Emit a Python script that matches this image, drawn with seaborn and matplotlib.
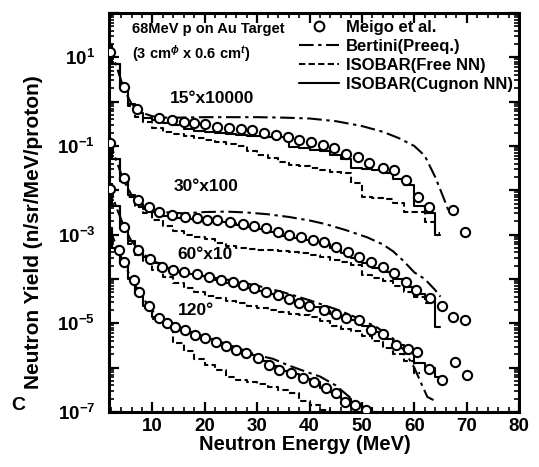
import numpy as np
import matplotlib
matplotlib.use("Agg")
import matplotlib.pyplot as plt
from matplotlib.lines import Line2D
from matplotlib.ticker import LogLocator, MultipleLocator, FuncFormatter, NullFormatter
import seaborn as sns

# ---------------- data (log10 of yield) ----------------
STEP_E = [1.7, 3, 4.5, 6, 7.5, 9, 11, 13, 15, 17, 19, 21, 23, 25, 27, 29, 31, 33,
          35, 37, 39, 41, 43, 45, 47, 49, 51, 53, 55, 57, 59, 61, 63, 65]

# 15 deg x 10000
meigo15_E = [1.95, 4.5, 7.1, 11.2, 13.8, 16.0, 17.9, 20.0, 22.4, 24.6, 26.9, 29.1, 31.3, 33.6,
             35.8, 38.0, 40.3, 42.5, 44.7, 47.0, 49.2, 51.4, 54.0, 56.2, 58.5, 60.7, 62.9, 67.4, 69.6]
meigo15_log = [1.13, 0.34, -0.17, -0.375, -0.41, -0.45, -0.49, -0.51, -0.565, -0.60, -0.62, -0.64,
               -0.70, -0.75, -0.80, -0.86, -0.90, -0.98, -1.05, -1.17, -1.24, -1.38, -1.50, -1.54,
               -1.77, -2.14, -2.37, -2.44, -2.93]
cug15_log = [1.28, 0.85, 0.3, -0.05, -0.26, -0.36, -0.42, -0.48, -0.52, -0.62, -0.66, -0.68, -0.70,
             -0.72, -0.76, -0.77, -0.78, -0.79, -0.80, -1.02, -1.05, -1.09, -1.12, -1.20, -1.30,
             -1.50, -1.52, -1.54, -1.62, -1.75, -1.88, -2.35, -2.51, -3.0]
free15_log = [1.28, 0.85, 0.3, -0.1, -0.35, -0.45, -0.60, -0.68, -0.72, -0.78, -0.83, -0.87, -0.90,
              -0.95, -1.0, -1.12, -1.2, -1.28, -1.36, -1.42, -1.45, -1.5, -1.55, -1.58, -1.6,
              -1.84, -2.15, -2.18, -2.2, -2.29, -2.49, -2.5, -2.71, -2.96]
bert15_E = [1.7, 3, 4.5, 6, 8, 10, 12, 15, 20, 25, 30, 35, 40, 45, 50, 54, 57, 60, 62, 64, 65.5, 66.5]
bert15_log = [1.3, 0.85, 0.3, -0.05, -0.25, -0.33, -0.36, -0.36, -0.35, -0.35, -0.35, -0.36,
              -0.38, -0.44, -0.55, -0.68, -0.82, -1.0, -1.22, -1.7, -2.14, -2.45]

# 30 deg x 100
meigo30_E = [1.95, 4.6, 7.2, 9.3, 11.2, 13.8, 16.3, 18.6, 20.5, 22.4, 24.9, 27.2, 29.4, 31.6, 33.9,
             36.1, 38.4, 40.6, 42.8, 45.1, 47.3, 49.5, 51.8, 54.0, 56.2, 58.5, 60.4, 63.0, 65.2, 67.4, 69.6]
meigo30_log = [-0.94, -1.72, -2.22, -2.38, -2.48, -2.56, -2.60, -2.63, -2.66, -2.67, -2.71, -2.76,
               -2.81, -2.86, -2.93, -3.01, -3.06, -3.11, -3.16, -3.27, -3.39, -3.50, -3.61, -3.72,
               -3.87, -4.06, -4.25, -4.44, -4.62, -4.85, -4.93]
cug30_log = [-0.87, -1.3, -1.78, -2.1, -2.3, -2.42, -2.5, -2.58, -2.62, -2.65, -2.68, -2.7, -2.72,
             -2.74, -2.78, -2.83, -2.88, -2.95, -3.02, -3.07, -3.12, -3.16, -3.2, -3.3, -3.42,
             -3.52, -3.64, -3.75, -3.85, -4.0, -4.18, -4.33, -4.45, -5.08]
free30_log = [-0.87, -1.3, -1.8, -2.15, -2.38, -2.52, -2.66, -2.8, -2.92, -3.0, -3.06, -3.1, -3.18,
              -3.26, -3.31, -3.33, -3.34, -3.35, -3.37, -3.40, -3.42, -3.45, -3.5, -3.57, -3.62,
              -3.69, -3.9, -3.98, -4.05, -4.15, -4.3, -4.4, -4.55]
bert30_E = [1.7, 3, 4.5, 6, 8, 10, 13, 16, 20, 24, 28, 32, 36, 40, 43, 47, 51, 54, 56, 58, 60, 62, 64, 65]
bert30_log = [-0.85, -1.3, -1.78, -2.1, -2.33, -2.45, -2.5, -2.52, -2.49, -2.48, -2.5, -2.54, -2.6,
              -2.68, -2.76, -2.9, -3.06, -3.22, -3.38, -3.6, -3.85, -4.0, -4.25, -4.4]

# 60 deg x 10
meigo60_E = [1.95, 4.6, 7.2, 9.6, 11.9, 14.0, 16.0, 18.6, 20.8, 23.0, 25.3, 27.2, 29.4, 31.6, 33.9,
             36.1, 38.0, 39.9, 42.8, 45.0, 47.0, 49.5, 51.8, 54.0, 56.5, 58.8, 60.6, 62.9, 65.2, 67.7, 70.0]
meigo60_log = [-1.96, -2.82, -3.35, -3.54, -3.73, -3.80, -3.84, -3.88, -3.95, -4.03, -4.06, -4.14,
               -4.21, -4.29, -4.36, -4.46, -4.55, -4.61, -4.70, -4.80, -4.89, -4.93, -5.15, -5.25,
               -5.49, -5.57, -5.65, -6.02, -6.28, -5.87, -6.17]
cug60_log = [-1.85, -2.35, -2.8, -3.15, -3.35, -3.5, -3.65, -3.76, -3.84, -3.88, -3.93, -3.98, -4.03,
             -4.08, -4.14, -4.2, -4.27, -4.34, -4.42, -4.5, -4.58, -4.64, -4.72, -4.8, -4.86,
             -4.92, -5.05, -5.2, -5.35, -5.5, -5.6, -5.9, -6.0, -6.2]
free60_log = [-1.85, -2.35, -2.8, -3.2, -3.45, -3.62, -3.8, -3.95, -4.1, -4.2, -4.3, -4.38, -4.44,
              -4.5, -4.55, -4.6, -4.65, -4.7, -4.75, -4.78, -4.82, -4.85, -4.95, -5.05, -5.12,
              -5.18, -5.28, -5.4, -5.55, -5.7, -5.86, -6.12]
bert60_E = [1.7, 3, 4.5, 6, 8, 10, 13, 16, 20, 25, 30, 35, 40, 45, 50, 53, 56, 58, 60, 61.5, 62.5, 64]
bert60_log = [-1.85, -2.35, -2.8, -3.15, -3.42, -3.58, -3.75, -3.86, -3.94, -4.03, -4.15, -4.3,
              -4.48, -4.68, -4.92, -5.1, -5.35, -5.6, -6.0, -6.4, -6.66, -6.75]

# 120 deg
meigo120_E = [3.7, 4.6, 6.4, 7.4, 9.3, 11.2, 12.8, 14.4, 16.3, 18.2, 20.1, 22.1, 24.0, 25.9, 27.8,
              30.1, 32.3, 34.2, 36.4, 38.7, 40.9, 43.1, 45.1, 46.7, 48.6, 50.8]
meigo120_log = [-3.35, -3.62, -4.03, -4.3, -4.62, -4.89, -5.0, -5.08, -5.15, -5.27, -5.34, -5.42,
                -5.51, -5.60, -5.68, -5.79, -5.94, -6.06, -6.13, -6.24, -6.32, -6.47, -6.58, -6.77,
                -6.85, -6.96]
cug120_log = [-2.85, -3.3, -3.65, -3.98, -4.3, -4.6, -4.85, -5.0, -5.1, -5.2, -5.28, -5.36, -5.45,
              -5.55, -5.64, -5.72, -5.84, -5.96, -6.08, -6.15, -6.25, -6.33, -6.45, -6.55, -6.7,
              -6.82, -6.92, -7.0]
free120_log = [-2.85, -3.3, -3.65, -4.0, -4.35, -4.65, -4.9, -5.05, -5.45, -5.62, -5.8, -5.95, -6.06,
               -6.2, -6.28, -6.32, -6.37, -6.44, -6.5, -6.58, -6.75, -6.85, -6.95, -7.05]
bert120_E = [1.7, 4, 6, 8, 10, 13, 16, 20, 25, 30, 33, 36, 40, 42, 45, 48, 50, 52]
bert120_log = [-2.85, -3.5, -4.0, -4.4, -4.72, -5.0, -5.15, -5.3, -5.5, -5.72, -5.8, -5.95, -6.12,
               -6.2, -6.4, -6.7, -6.87, -7.05]

group_labels = ["15°x10000", "30°x100", "60°x10", "120°"]
legend_labels = ["Meigo et al.", "Bertini(Preeq.)", "ISOBAR(Free NN)", "ISOBAR(Cugnon NN)"]
x_ticks = [10, 20, 30, 40, 50, 60, 70, 80]

groups = [
    (meigo15_E, meigo15_log, bert15_E, bert15_log, free15_log, cug15_log),
    (meigo30_E, meigo30_log, bert30_E, bert30_log, free30_log, cug30_log),
    (meigo60_E, meigo60_log, bert60_E, bert60_log, free60_log, cug60_log),
    (meigo120_E, meigo120_log, bert120_E, bert120_log, free120_log, cug120_log),
]

# ---------------- styling ----------------
sns.set_theme(style="ticks")
plt.rcParams["font.family"] = ["Liberation Sans", "DejaVu Sans"]
plt.rcParams["font.weight"] = "bold"
plt.rcParams["text.color"] = "black"
plt.rcParams["axes.labelcolor"] = "black"
plt.rcParams["xtick.color"] = "black"
plt.rcParams["ytick.color"] = "black"
plt.rcParams["axes.edgecolor"] = "black"
plt.rcParams["mathtext.fontset"] = "custom"
plt.rcParams["mathtext.rm"] = "Liberation Sans:bold"
plt.rcParams["mathtext.bf"] = "Liberation Sans:bold"
plt.rcParams["mathtext.it"] = "Liberation Sans:bold:italic"

DASHDOT = (0, (7, 2.2, 1.6, 2.2))
SHORTDASH = (0, (3, 1.6))
LW = 1.5

fig = plt.figure(figsize=(5.39, 4.67), dpi=100)
ax = fig.add_axes([0.2022, 0.1178, 0.7607, 0.8544])
ax.set_yscale("log")
ax.set_xlim(1.7, 80)
ax.set_ylim(1e-7, 1e2)

for mE, mL, bE, bL, fL, cL in groups:
    sns.lineplot(x=STEP_E[:len(cL)], y=10 ** np.array(cL), ax=ax, color="black", linewidth=LW,
                 drawstyle="steps-mid", estimator=None, sort=False, legend=False)
    sns.lineplot(x=STEP_E[:len(fL)], y=10 ** np.array(fL), ax=ax, color="black", linewidth=LW,
                 drawstyle="steps-mid", linestyle=SHORTDASH, estimator=None, sort=False, legend=False)
    sns.lineplot(x=bE, y=10 ** np.array(bL), ax=ax, color="black", linewidth=LW,
                 linestyle=DASHDOT, estimator=None, sort=False, legend=False)
    sns.scatterplot(x=mE, y=10 ** np.array(mL), ax=ax, marker="o", s=44, facecolor="white",
                    edgecolor="black", linewidth=1.5, zorder=4, legend=False)

# axis ticks
ax.yaxis.set_major_locator(LogLocator(base=10, numticks=20))
ax.yaxis.set_minor_locator(LogLocator(base=10, subs=np.arange(2, 10), numticks=20))
ax.yaxis.set_minor_formatter(NullFormatter())


def ylab(v, pos):
    e = int(round(np.log10(v)))
    if e % 2 == 0:
        return ""
    return r"$\mathbf{10^{%d}}$" % e


ax.yaxis.set_major_formatter(FuncFormatter(ylab))
ax.set_xticks(x_ticks)
ax.set_xticklabels([str(t) for t in x_ticks])
ax.xaxis.set_minor_locator(MultipleLocator(2))

ax.tick_params(which="both", direction="in", top=True, right=True, color="black")
ax.tick_params(which="major", length=7, width=1.6)
ax.tick_params(which="minor", length=3.5, width=1.2)
ax.tick_params(axis="y", which="major", pad=10, labelsize=13.5, labelcolor="black")
ax.tick_params(axis="x", which="major", pad=4, labelsize=13.5, labelcolor="black")
for lab in ax.get_xticklabels() + ax.get_yticklabels():
    lab.set_fontweight("bold")
for sp in ax.spines.values():
    sp.set_linewidth(2.2)
    sp.set_color("black")

ax.set_xlabel("Neutron Energy (MeV)", fontsize=14.5, fontweight="bold", color="black")
ax.set_ylabel("Neutron Yield (n/sr/MeV/proton)", fontsize=15, fontweight="bold", color="black")
ax.xaxis.set_label_coords(0.477, -0.058)
ax.yaxis.set_label_coords(-0.16, 0.45)

# annotations
ax.text(13.4, 10 ** 0.07, group_labels[0], fontsize=12.5, fontweight="bold", va="center")
ax.text(14.0, 10 ** -1.92, group_labels[1], fontsize=12.5, fontweight="bold", va="center")
ax.text(14.8, 10 ** -3.45, group_labels[2], fontsize=12.5, fontweight="bold", va="center")
ax.text(14.8, 10 ** -4.70, group_labels[3], fontsize=12.5, fontweight="bold", va="center")
ax.text(0.055, 0.978, "68MeV p on Au Target", transform=ax.transAxes, fontsize=10.5,
        fontweight="bold", va="top")
ax.text(0.055, 0.925, r"(3 cm$^{\phi}$ x 0.6 cm$^{t}$)", transform=ax.transAxes, fontsize=10.5,
        fontweight="bold", va="top")

handles = [
    Line2D([], [], marker="o", linestyle="none", markerfacecolor="white", markeredgecolor="black",
           markeredgewidth=1.5, markersize=7),
    Line2D([], [], color="black", linewidth=LW, linestyle=DASHDOT),
    Line2D([], [], color="black", linewidth=LW, linestyle=SHORTDASH),
    Line2D([], [], color="black", linewidth=LW),
]
ax.legend(handles, legend_labels, loc="upper right", bbox_to_anchor=(1.01, 1.008), frameon=False,
          prop={"weight": "bold", "size": 12}, handlelength=2.4, handletextpad=0.4,
          labelspacing=0.25, borderaxespad=0.2)

fig.text(18 / 539, 1 - 405 / 467, "C", fontsize=14, fontweight="bold", ha="center", va="center")

fig.savefig("out.png", dpi=100)
